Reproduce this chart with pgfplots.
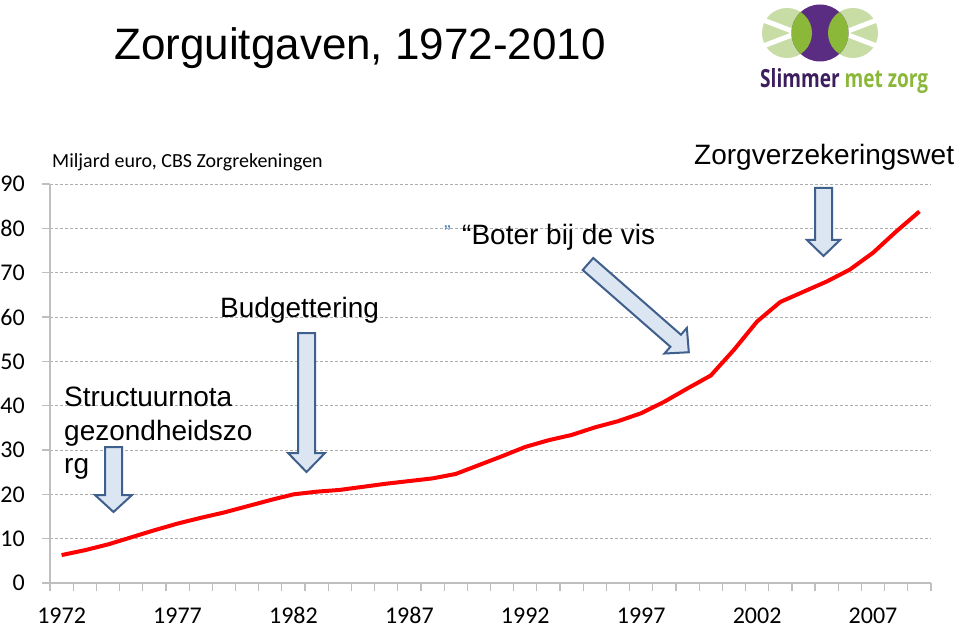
\documentclass[border=0pt]{standalone}
\usepackage{fontspec}
\setmainfont{Liberation Sans}
\newfontfamily\calibri{Carlito}
\newfontfamily\logofont{Open Sans}
\usepackage{graphicx}
\usepackage{pgfplots}
\pgfplotsset{compat=1.18}
\definecolor{gridc}{HTML}{ADADAD}
\definecolor{axc}{HTML}{BFBFBF}
\definecolor{arrfill}{HTML}{DCE6F2}
\definecolor{arrdraw}{HTML}{3F5F8C}
\definecolor{lgreen}{HTML}{C8DCA5}
\definecolor{dgreen}{HTML}{8CB83A}
\definecolor{purp}{HTML}{5A2D82}
\definecolor{dpurp}{HTML}{3C1E5F}
\definecolor{qblue}{HTML}{4F81BD}
\pgfplotstableread{
x y
0 6.3
1 7.4
2 8.7
3 10.3
4 11.9
5 13.4
6 14.7
7 15.9
8 17.3
9 18.7
10 20.0
11 20.6
12 21.0
13 21.7
14 22.4
15 23.0
16 23.6
17 24.6
18 26.6
19 28.6
20 30.7
21 32.2
22 33.4
23 35.1
24 36.5
25 38.3
26 40.9
27 43.9
28 46.8
29 52.6
30 59.0
31 63.4
32 65.7
33 68.0
34 70.7
35 74.5
36 79.3
37 83.8
}\zorgdata
\begin{document}
\begin{tikzpicture}[x=1bp,y=1bp]
\fill[white] (0,0) rectangle (960,-629);
\useasboundingbox (0,0) rectangle (960,-629);
\begin{axis}[at={(50bp,-583bp)}, anchor=south west, scale only axis,
  width=881bp, height=399bp,
  xmin=-0.5, xmax=37.5, ymin=0, ymax=90,
  axis x line=bottom, axis y line=left,
  axis line style={-, draw=axc, line width=1.5bp},
  tick align=outside,
  major tick length=8bp, minor tick length=8bp,
  ytick={0,10,...,90},
  ymajorgrids,
  major grid style={draw=gridc, dash pattern=on 3bp off 2bp, line width=0.8bp},
  xtick={0,5,...,35},
  xticklabels={1972,1977,1982,1987,1992,1997,2002,2007},
  minor xtick={-0.5,0.5,...,37.5},
  major x tick style={draw=none},
  minor x tick style={draw=axc, line width=1.2bp},
  major y tick style={draw=axc, line width=1.2bp},
  /pgf/number format/assume math mode=true,
  tick label style={font=\calibri\fontsize{24bp}{24bp}\selectfont, text=black},
  yticklabel style={anchor=east, inner sep=0pt, xshift=-17bp},
  xticklabel style={anchor=base, inner sep=0pt, yshift=-32bp},
]
\addplot[color=red, line width=4bp, line join=round, no marks] table[x=x,y=y] {\zorgdata};
\end{axis}
% titles and labels
\node[anchor=base west, inner sep=0] at (114,-60) {\fontsize{44bp}{50bp}\selectfont Zorguitgaven, 1972-2010};
\node[anchor=base west, inner sep=0] at (52,-168) {\calibri\fontsize{20bp}{22bp}\selectfont Miljard euro, CBS Zorgrekeningen};
\node[anchor=base west, inner sep=0] at (64,-406) {\fontsize{28bp}{33bp}\selectfont Structuurnota};
\node[anchor=base west, inner sep=0] at (64,-440) {\fontsize{28bp}{33bp}\selectfont gezondheidszo};
\node[anchor=base west, inner sep=0] at (64,-473) {\fontsize{28bp}{33bp}\selectfont rg};
\node[anchor=base west, inner sep=0] at (220,-317) {\fontsize{28bp}{33bp}\selectfont Budgettering};
\node[anchor=base west, inner sep=0] at (462,-245) {\fontsize{28bp}{33bp}\selectfont \char"201C Boter bij de vis};
\node[anchor=base west, inner sep=0, text=qblue] at (444,-240) {\fontsize{20bp}{22bp}\selectfont \char"201D};
\node[anchor=base west, inner sep=0] at (694,-165) {\fontsize{28bp}{33bp}\selectfont Zorgverzekeringswet};
% block arrows
\begin{scope}[fill=arrfill, draw=arrdraw, line width=2bp, line join=miter]
\filldraw (105,-447) -- (122,-447) -- (122,-495) -- (132,-495) -- (113.5,-512) -- (95,-495) -- (105,-495) -- cycle;
\filldraw (298,-333) -- (315,-333) -- (315,-453) -- (325,-453) -- (306.5,-472) -- (288,-453) -- (298,-453) -- cycle;
\filldraw (815,-188) -- (832,-188) -- (832,-240) -- (840,-240) -- (823.5,-256) -- (807,-240) -- (815,-240) -- cycle;
\begin{scope}[shift={(588,-264)}, rotate=-41.2]
\filldraw (0,8) -- (116.5,8) -- (116.5,17) -- (134,0) -- (116.5,-17) -- (116.5,-8) -- (0,-8) -- cycle;
\end{scope}
\end{scope}
% logo
\fill[lgreen] (787,-33) circle (25);
\fill[lgreen] (853,-33) circle (25);
\draw[white, line width=5] (758,-18) -- (797,-33) -- (758,-48);
\draw[white, line width=5] (882,-18) -- (843,-33) -- (882,-48);
\fill[purp] (820,-33) circle (28.5);
\begin{scope}
\clip (820,-33) circle (28.5);
\fill[dgreen] (787,-33) circle (25);
\fill[dgreen] (853,-33) circle (25);
\end{scope}
\node[anchor=base west, inner sep=0] at (760,-88) {\resizebox*{168bp}{25bp}{\logofont\bfseries\textcolor{dpurp}{Slimmer} \textcolor{dgreen}{met zorg}}};
\end{tikzpicture}
\end{document}
